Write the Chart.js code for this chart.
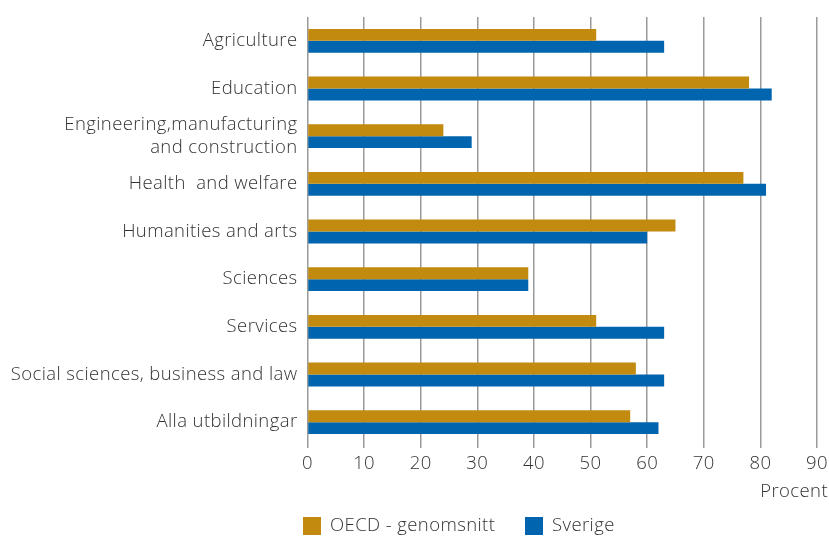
<!DOCTYPE html>
<html>
<head>
<meta charset="utf-8">
<script src="https://cdn.jsdelivr.net/npm/chart.js@4"></script>
<style>
  html, body { margin: 0; padding: 0; background: #fff; }
  #wrap { width: 829px; height: 536px; position: relative; }
</style>
</head>
<body>
<div id="wrap"><canvas id="chart"></canvas></div>
<script>
const categories = [
    'Agriculture',
    'Education',
    ['Engineering,manufacturing', 'and construction'],
    'Health  and welfare',
    'Humanities and arts',
    'Sciences',
    'Services',
    'Social sciences, business and law',
    'Alla utbildningar'
];
const oecd = [51, 78, 24, 77, 65, 39, 51, 58, 57];
const sverige = [63, 82, 29, 81, 60, 39, 63, 63, 62];
const seriesNames = ['OECD - genomsnitt', 'Sverige'];
const seriesColors = ['#c28a0e', '#0064ae'];
const axisTitle = 'Procent';

const FONT = "'Open Sans', 'Noto Sans', sans-serif";
const TEXT = '#333333';
const SIZE = 18.5;

// wider letter spacing, the print font is quite airy
const spacing = {
    id: 'spacing',
    beforeDraw(chart) {
        chart.ctx.letterSpacing = '0.4px';
    }
};

// axis title and legend under the axis, same spot as in the print version
const bottomText = {
    id: 'bottomText',
    afterDraw(chart) {
        const ctx = chart.ctx;
        ctx.save();
        ctx.font = '300 ' + SIZE + 'px ' + FONT;
        ctx.textBaseline = 'middle';
        ctx.fillStyle = TEXT;
        ctx.textAlign = 'right';
        ctx.fillText(axisTitle, 828, 492);
        ctx.textAlign = 'left';
        const pos = [303, 525];
        chart.data.datasets.forEach((ds, i) => {
            ctx.fillStyle = ds.backgroundColor;
            ctx.fillRect(pos[i], 517, 18, 18);
            ctx.fillStyle = TEXT;
            ctx.fillText(ds.label, pos[i] + 27, 526);
        });
        ctx.restore();
    }
};

const ctx = document.getElementById('chart').getContext('2d');
const chart = new Chart(ctx, {
    type: 'bar',
    data: {
        labels: categories,
        datasets: [
            { label: seriesNames[0], data: oecd, backgroundColor: seriesColors[0] },
            { label: seriesNames[1], data: sverige, backgroundColor: seriesColors[1] }
        ]
    },
    options: {
        indexAxis: 'y',
        responsive: true,
        maintainAspectRatio: false,
        animation: false,
        datasets: {
            bar: { categoryPercentage: 0.5, barPercentage: 1.0 }
        },
        layout: { padding: { top: 17, right: 12, left: 0, bottom: 0 } },
        plugins: {
            legend: { display: false },
            tooltip: { enabled: false }
        },
        scales: {
            x: {
                min: 0,
                max: 90,
                border: { display: false },
                grid: { color: '#9a9a9a', lineWidth: 1.5, tickLength: 2 },
                ticks: {
                    stepSize: 10,
                    padding: 5,
                    color: TEXT,
                    font: { family: FONT, size: SIZE, weight: 300 }
                },
                afterFit(scale) {
                    scale.height = 90;
                    scale.paddingLeft = 0;
                    scale.paddingRight = 0;
                }
            },
            y: {
                border: { display: false },
                grid: { display: false, drawTicks: false },
                ticks: {
                    autoSkip: false,
                    padding: 10,
                    color: TEXT,
                    font: { family: FONT, size: SIZE, weight: 300, lineHeight: 1.2 }
                },
                afterFit(scale) {
                    scale.width = 307.5;
                    scale.paddingTop = 0;
                    scale.paddingBottom = 0;
                }
            }
        }
    },
    plugins: [spacing, bottomText]
});
</script>
</body>
</html>
